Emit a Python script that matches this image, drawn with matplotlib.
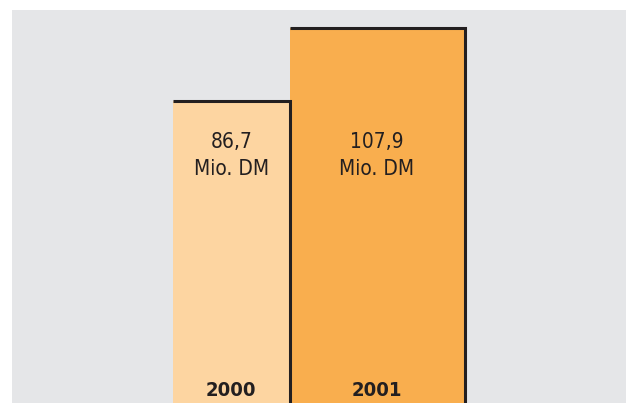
import matplotlib
matplotlib.use("Agg")
import matplotlib.pyplot as plt

years = ["2000", "2001"]
values = [86.7, 107.9]
unit = "Mio. DM"

BG = "#e5e6e8"
BAR_COLORS = ["#fdd5a1", "#f9ae4e"]
EDGE = "#231f20"

# bar geometry in "pixel-like" axis units
lefts = [161, 277.5]
widths = [116.5, 175]

fig = plt.figure(figsize=(6.26, 4.03), dpi=100)
ax = fig.add_axes([12 / 626, 0, 614 / 626, 393 / 403])
ax.set_facecolor(BG)
ax.set_xlim(0, 614)
ax.set_ylim(0, 393 / 3.48)

ax.bar(lefts, values, width=widths, align="edge", color=BAR_COLORS, linewidth=0)

# outlines: top + right side of each bar
for x0, w, v in zip(lefts, widths, values):
    ax.plot([x0, x0 + w, x0 + w], [v, v, 0], color=EDGE, lw=2.2,
            solid_joinstyle="miter", solid_capstyle="butt", clip_on=False)

for x0, w, v, yr in zip(lefts, widths, values, years):
    cx = x0 + w / 2
    label = f"{v:.1f}".replace(".", ",") + "\n" + unit
    ax.text(cx, 71.1, label, ha="center", va="center", fontsize=15,
            color=EDGE, family="DejaVu Sans", fontstretch="condensed",
            linespacing=1.4)
    ax.text(cx, 3.7, yr, ha="center", va="center", fontsize=14.5,
            color=EDGE, family="DejaVu Sans", fontstretch="condensed",
            fontweight="bold")

for s in ax.spines.values():
    s.set_visible(False)
ax.set_xticks([])
ax.set_yticks([])

fig.savefig("out.png", dpi=100)
